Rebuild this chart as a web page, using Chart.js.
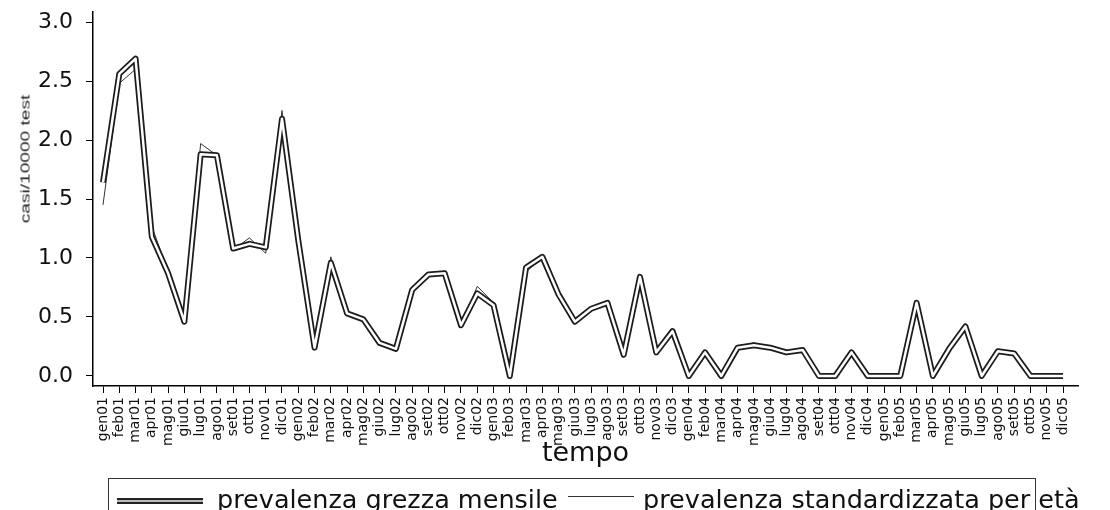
<!DOCTYPE html>
<html>
<head>
<meta charset="utf-8">
<script src="https://cdn.jsdelivr.net/npm/chart.js@4.4.1/dist/chart.umd.min.js"></script>
<style>
  body { margin: 0; background: #fff; }
  #wrap { position: relative; width: 1110px; height: 510px; overflow: hidden; background: #fff; }
  #ytitle {
    position: absolute; left: 25px; top: 159px; white-space: nowrap;
    font: 13px "Liberation Sans", Arial, sans-serif; color: #222;
    transform: translate(-50%, -50%) rotate(-90deg) scale(1.47, 1);
  }
  #legend-box { position: absolute; left: 108px; top: 478px; width: 928px; height: 60px; border: 1px solid #333; box-sizing: border-box; }
  .leg-text { position: absolute; top: 487px; font: 25.5px/25px "DejaVu Sans", sans-serif; color: #111; white-space: nowrap; }
  .leg-thick { position: absolute; left: 117px; top: 498px; width: 86px; height: 2px; background: #bbb; border-top: 2px solid #222; border-bottom: 2px solid #222; }
  .leg-thin { position: absolute; left: 568px; top: 496px; width: 66px; height: 1px; background: #333; }
</style>
</head>
<body>
<div id="wrap">
  <canvas id="prevChart" width="1110" height="510"></canvas>
  <div id="ytitle">casi/10000 test</div>
  <div id="legend-box"></div>
  <div class="leg-thick"></div>
  <span class="leg-text" id="leg1" style="left:217px"></span>
  <div class="leg-thin"></div>
  <span class="leg-text" id="leg2" style="left:643px"></span>
</div>
<script>
const months = [
  'gen01','feb01','mar01','apr01','mag01','giu01','lug01','ago01','set01','ott01','nov01','dic01',
  'gen02','feb02','mar02','apr02','mag02','giu02','lug02','ago02','set02','ott02','nov02','dic02',
  'gen03','feb03','mar03','apr03','mag03','giu03','lug03','ago03','set03','ott03','nov03','dic03',
  'gen04','feb04','mar04','apr04','mag04','giu04','lug04','ago04','set04','ott04','nov04','dic04',
  'gen05','feb05','mar05','apr05','mag05','giu05','lug05','ago05','set05','ott05','nov05','dic05'
];

// prevalenza grezza mensile (linea spessa)
const grezza = [
  1.64, 2.56, 2.69, 1.18, 0.87, 0.46, 1.88, 1.87, 1.08, 1.12, 1.09, 2.18,
  1.15, 0.24, 0.96, 0.53, 0.48, 0.28, 0.23, 0.73, 0.86, 0.87, 0.43, 0.70,
  0.60, 0.00, 0.92, 1.01, 0.69, 0.46, 0.57, 0.62, 0.18, 0.84, 0.20, 0.38,
  0.00, 0.20, 0.00, 0.24, 0.26, 0.24, 0.20, 0.22, 0.00, 0.00, 0.20, 0.00,
  0.00, 0.00, 0.62, 0.00, 0.23, 0.42, 0.00, 0.21, 0.19, 0.00, 0.00, 0.00
];

// prevalenza standardizzata per età (linea sottile)
const standardizzata = [
  1.45, 2.48, 2.60, 1.27, 0.88, 0.46, 1.97, 1.87, 1.07, 1.17, 1.04, 2.25,
  1.15, 0.24, 1.01, 0.53, 0.48, 0.26, 0.22, 0.75, 0.86, 0.89, 0.42, 0.76,
  0.62, 0.00, 0.88, 1.01, 0.70, 0.45, 0.58, 0.63, 0.18, 0.84, 0.20, 0.39,
  0.00, 0.21, 0.00, 0.25, 0.28, 0.25, 0.21, 0.23, 0.00, 0.00, 0.20, 0.00,
  0.00, 0.00, 0.62, 0.00, 0.24, 0.44, 0.00, 0.22, 0.20, 0.00, 0.00, 0.00
];

const yTicks = [0, 0.5, 1, 1.5, 2, 2.5, 3];
const seriesNames = ['prevalenza grezza mensile', 'prevalenza standardizzata per età'];

const toPoints = arr => arr.map((v, i) => ({ x: i, y: v }));

const lineBase = { pointRadius: 0, tension: 0, fill: false, borderJoinStyle: 'round', borderCapStyle: 'butt' };

document.getElementById('leg1').textContent = seriesNames[0];
document.getElementById('leg2').textContent = seriesNames[1];

const ctx = document.getElementById('prevChart').getContext('2d');
new Chart(ctx, {
  type: 'line',
  data: {
    datasets: [
      { ...lineBase, label: seriesNames[0] + ' (interno)', data: toPoints(grezza), borderColor: '#ffffff', borderWidth: 2.5, order: 1 },
      { ...lineBase, label: seriesNames[0], data: toPoints(grezza), borderColor: '#1c1c1c', borderWidth: 6, order: 2 },
      { ...lineBase, label: seriesNames[1], data: toPoints(standardizzata), borderColor: '#333333', borderWidth: 1, order: 3 }
    ]
  },
  options: {
    responsive: false,
    devicePixelRatio: 1,
    animation: false,
    layout: { padding: { left: 0, top: 12, right: 32, bottom: 40 } },
    plugins: { legend: { display: false }, tooltip: { enabled: false } },
    scales: {
      x: {
        type: 'linear',
        min: -0.615,
        max: 59.92,
        afterBuildTicks: s => { s.ticks = months.map((m, i) => ({ value: i })); },
        afterFit: s => { s.height = 84; s.paddingLeft = 0; s.paddingRight = 0; },
        grid: { display: true, drawOnChartArea: false, tickLength: 7, color: '#000', lineWidth: 1 },
        border: { display: true, color: '#000', width: 1.5 },
        ticks: {
          autoSkip: false, maxRotation: 90, minRotation: 90, padding: 4,
          font: { family: 'DejaVu Sans', size: 14 }, color: '#111',
          callback: v => months[v] ?? ''
        },
        title: { display: true, text: 'tempo', font: { family: 'DejaVu Sans', size: 27 }, color: '#111', padding: { top: 0, bottom: 0 } }
      },
      y: {
        min: -0.085,
        max: 3.085,
        afterBuildTicks: s => { s.ticks = yTicks.map(v => ({ value: v })); },
        afterFit: s => { s.width = 93; s.paddingTop = 0; s.paddingBottom = 0; },
        grid: { display: true, drawOnChartArea: false, tickLength: 7, color: '#000', lineWidth: 1 },
        border: { display: true, color: '#000', width: 1.5 },
        ticks: { padding: 13, font: { family: 'DejaVu Sans', size: 22 }, color: '#111', callback: v => v.toFixed(1) }
      }
    }
  }
});
</script>
</body>
</html>
